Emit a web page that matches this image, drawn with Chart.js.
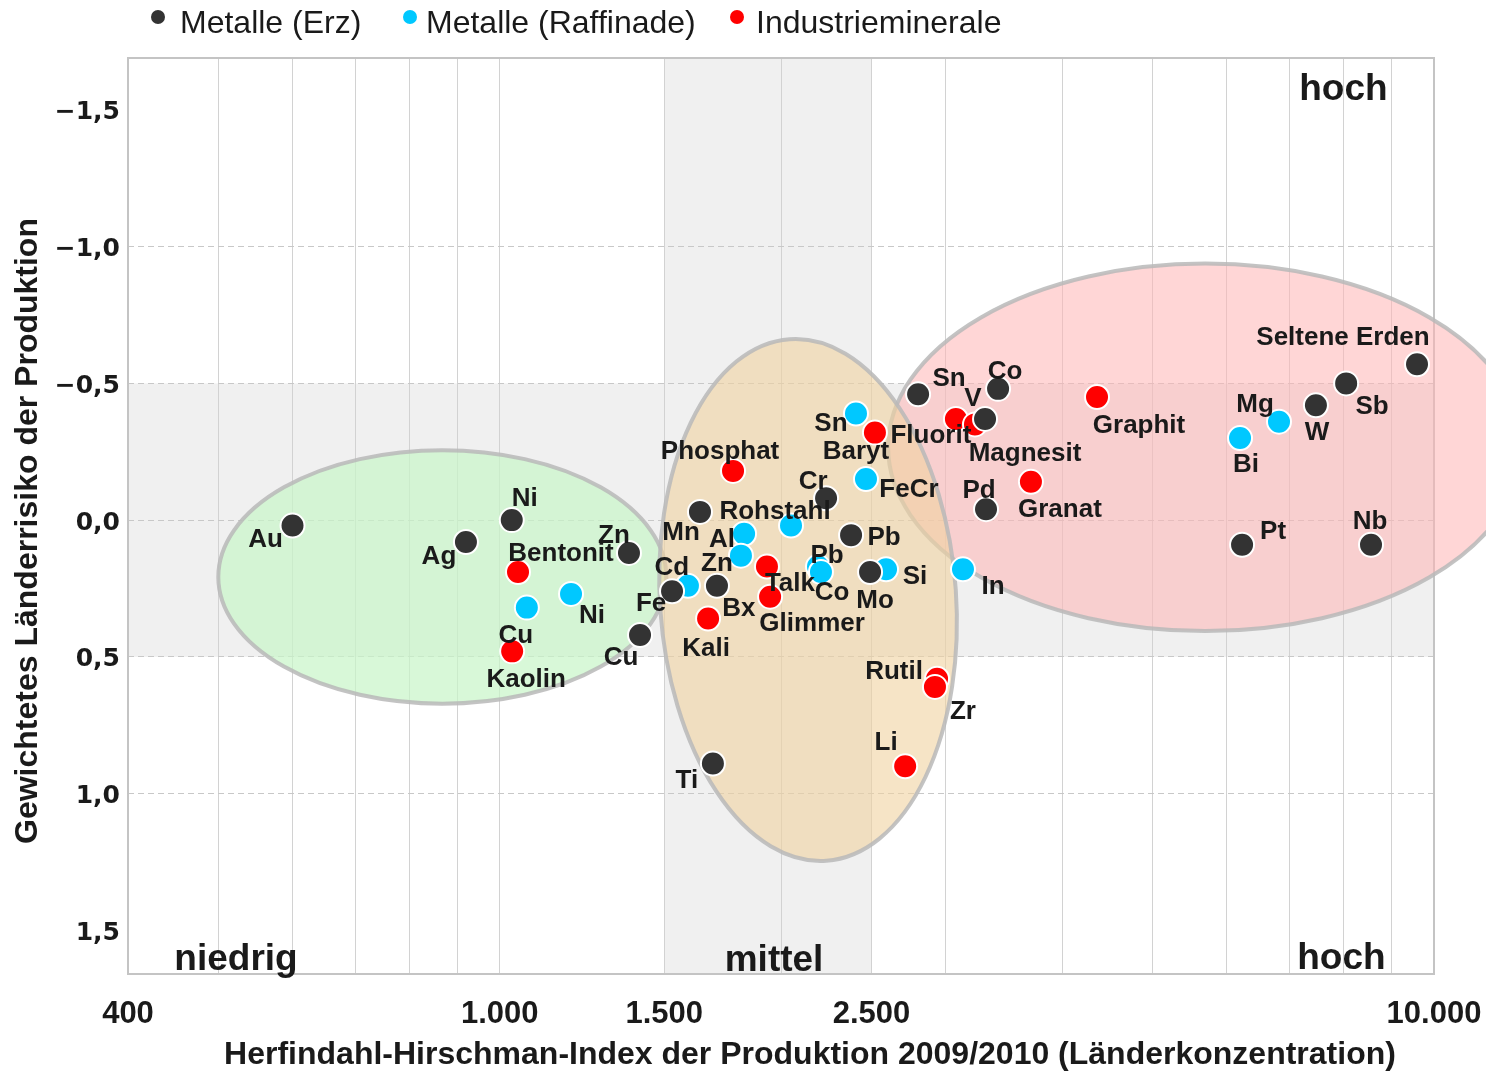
<!DOCTYPE html>
<html>
<head>
<meta charset="utf-8">
<script src="https://cdn.jsdelivr.net/npm/chart.js@4.4.1/dist/chart.umd.min.js"></script>
<style>
  html, body { margin: 0; padding: 0; background: #fff; }
  #wrap { width: 1486px; height: 1072px; }
</style>
</head>
<body>
<div id="wrap"><canvas id="chart" width="1486" height="1072"></canvas></div>
<script>
/* ===== DATA ===== */
const seriesNames = ["Metalle (Erz)", "Metalle (Raffinade)", "Industrieminerale"];

// Metalle (Erz)
const erzNames = ["Au", "Ag", "Ni", "Zn", "Cu", "Fe", "Mn", "Bx", "Ti", "Cr", "Pb", "Mo",
  "Sn", "V", "Co", "Pd", "W", "Sb", "Seltene Erden", "Pt", "Nb"];
const erzHHI = [600, 920, 1030, 1375, 1413, 1529, 1638, 1708, 1691, 2235, 2377, 2491,
  2804, 3307, 3415, 3315, 7475, 8053, 9590, 6231, 8562];
const erzRisk = [0.02, 0.08, 0.0, 0.12, 0.42, 0.26, -0.03, 0.24, 0.89, -0.08, 0.055, 0.19,
  -0.46, -0.37, -0.48, -0.04, -0.42, -0.50, -0.57, 0.09, 0.09];

// Metalle (Raffinade)
const raffNames = ["Cu", "Ni", "Cd", "Al", "Zn", "Rohstahl", "Pb", "Co", "Si", "Sn", "FeCr",
  "In", "Mg", "Bi"];
const raffHHI = [1069, 1192, 1590, 1826, 1812, 2050, 2191, 2207, 2591, 2406, 2466,
  3132, 6825, 6200];
const raffRisk = [0.32, 0.27, 0.24, 0.05, 0.13, 0.02, 0.17, 0.19, 0.18, -0.39, -0.15,
  0.18, -0.36, -0.30];

// Industrieminerale
const indNames = ["Bentonit", "Kaolin", "Phosphat", "Talk", "Glimmer", "Kali", "Baryt",
  "Fluorit", "Magnesit", "Graphit", "Granat", "Rutil", "Zr", "Li"];
const indHHI = [1046, 1031, 1777, 1932, 1947, 1671, 2521, 3078, 3226, 4358, 3703,
  2938, 2923, 2716];
const indRisk = [0.19, 0.48, -0.18, 0.17, 0.28, 0.36, -0.32, -0.37, -0.35, -0.45, -0.14,
  0.58, 0.61, 0.90];

// axis ticks
const xGridValues = [400, 500, 600, 700, 800, 900, 1000, 1500, 2000, 2500, 3000, 4000,
  5000, 6000, 7000, 8000, 9000, 10000];
const xLabelValues = [400, 1000, 1500, 2500, 10000];
const yTickValues = [-1.5, -1.0, -0.5, 0, 0.5, 1.0, 1.5];

/* ===== LABEL OFFSETS (px, relative to point) ===== */
const erzLabelPos = [[-27, 14], [-27, 15], [13, -21], [-15, -17], [-19, 23], [-21, 13],
  [-19, 21], [22, 23], [-26, 17], [-13, -16], [33, 3], [5, 29], [31, -15], [-12, -20],
  [7, -17], [-7, -18], [1, 28], [26, 23], [-74, -26], [31, -13], [-1, -23]];
const raffLabelPos = [[-11, 28], [21, 22], [-16, -18], [-22, 6], [-24, 8], [-16, -14],
  [9, -11], [11, 21], [29, 8], [-25, 10], [43, 11], [30, 18], [-24, -17], [6, 27]];
const indLabelPos = [[43, -18], [14, 28], [-13, -19], [23, 17], [42, 27], [-2, 30],
  [-19, 19], [-25, 17], [50, 29], [42, 29], [29, 28], [-43, -7], [28, 25], [-19, -23]];

const colors = ["#333333", "#00c8ff", "#ff0000"];
const FONT = "'Liberation Sans', Arial, sans-serif";

/* ===== PLUGINS ===== */
const bands = {
  id: "bands",
  beforeDraw(chart) {
    const { ctx, chartArea: a, scales: { x, y } } = chart;
    ctx.save();
    ctx.fillStyle = "#fff";
    ctx.fillRect(0, 0, chart.width, chart.height);
    ctx.fillStyle = "#f0f0f0";
    const x1 = x.getPixelForValue(1500), x2 = x.getPixelForValue(2500);
    ctx.fillRect(x1, a.top, x2 - x1, a.bottom - a.top);
    const y1 = y.getPixelForValue(-0.5), y2 = y.getPixelForValue(0.5);
    ctx.fillRect(a.left, y1, a.right - a.left, y2 - y1);
    ctx.restore();
  }
};

// cluster ellipses in data units (centre, half width in decades, half height)
const clusters = [
  { x: 868, y: 0.208, rxDec: 0.2398, ry: 0.4635, rot: 0, fill: "rgba(200,245,200,0.7)" },
  { x: 5690, y: -0.266, rxDec: 0.3394, ry: 0.672, rot: 0, fill: "rgba(255,180,180,0.55)" },
  { x: 2138, y: 0.292, rxDec: 0.1585, ry: 0.956, rot: -0.07, fill: "rgba(240,210,160,0.6)" }
];

const ellipses = {
  id: "ellipses",
  beforeDatasetsDraw(chart) {
    const { ctx, chartArea: a, scales: { x, y } } = chart;
    ctx.save();
    ctx.strokeStyle = "#c4c4c4";
    ctx.lineWidth = 2;
    ctx.strokeRect(a.left, a.top, a.right - a.left, a.bottom - a.top);
    clusters.forEach(c => {
      const cx = x.getPixelForValue(c.x);
      const rx = x.getPixelForValue(c.x * Math.pow(10, c.rxDec)) - cx;
      const cy = y.getPixelForValue(c.y);
      const ry = Math.abs(y.getPixelForValue(c.y + c.ry) - cy);
      ctx.beginPath();
      ctx.ellipse(cx, cy, rx, ry, c.rot, 0, Math.PI * 2);
      ctx.fillStyle = c.fill;
      ctx.fill();
      ctx.lineWidth = 4;
      ctx.strokeStyle = "rgba(185,185,185,0.85)";
      ctx.stroke();
    });
    ctx.restore();
  }
};

const labelSets = [
  { names: erzNames, pos: erzLabelPos },
  { names: raffNames, pos: raffLabelPos },
  { names: indNames, pos: indLabelPos }
];

const pointLabels = {
  id: "pointLabels",
  afterDatasetsDraw(chart) {
    const { ctx, chartArea: a, scales: { x, y } } = chart;
    ctx.save();
    ctx.fillStyle = "#1a1a1a";
    ctx.textAlign = "center";
    ctx.textBaseline = "middle";
    ctx.font = "bold 26px " + FONT;
    labelSets.forEach((set, di) => {
      const meta = chart.getDatasetMeta(di);
      meta.data.forEach((pt, i) => {
        const off = set.pos[i];
        ctx.fillText(set.names[i], pt.x + off[0], pt.y + off[1]);
      });
    });

    // region labels
    ctx.font = "bold 37px " + FONT;
    ctx.textBaseline = "alphabetic";
    ctx.fillText("niedrig", x.getPixelForValue(522), a.bottom - 4);
    ctx.fillText("mittel", x.getPixelForValue(1966), a.bottom - 3);
    ctx.fillText("hoch", x.getPixelForValue(7960), a.bottom - 5);
    ctx.fillText("hoch", x.getPixelForValue(8000), a.top + 42);
    ctx.restore();
  }
};

const legendX = [[158, 180], [410, 426], [737, 756]];

const extras = {
  id: "extras",
  afterDraw(chart) {
    const { ctx } = chart;
    ctx.save();
    // legend
    ctx.font = "32px " + FONT;
    ctx.textBaseline = "middle";
    ctx.textAlign = "left";
    seriesNames.forEach((name, i) => {
      ctx.beginPath();
      ctx.arc(legendX[i][0], 17, 7, 0, Math.PI * 2);
      ctx.fillStyle = colors[i];
      ctx.fill();
      ctx.fillStyle = "#1a1a1a";
      ctx.fillText(name, legendX[i][1], 24);
    });
    // axis titles
    ctx.fillStyle = "#1a1a1a";
    ctx.textAlign = "center";
    ctx.font = "bold 32px " + FONT;
    ctx.fillText("Herfindahl-Hirschman-Index der Produktion 2009/2010 (Länderkonzentration)", 810, 1055);
    ctx.translate(28, 531);
    ctx.rotate(-Math.PI / 2);
    ctx.fillText("Gewichtetes Länderrisiko der Produktion", 0, 0);
    ctx.restore();
  }
};

/* ===== CHART ===== */
const makeSet = (label, xs, ys, color) => ({
  label: label,
  data: xs.map((v, i) => ({ x: v, y: ys[i] })),
  backgroundColor: color,
  borderColor: "#ffffff",
  borderWidth: 2,
  pointRadius: 12,
  pointHoverRadius: 12
});

new Chart(document.getElementById("chart"), {
  type: "scatter",
  data: {
    datasets: [
      makeSet(seriesNames[0], erzHHI, erzRisk, colors[0]),
      makeSet(seriesNames[1], raffHHI, raffRisk, colors[1]),
      makeSet(seriesNames[2], indHHI, indRisk, colors[2])
    ]
  },
  options: {
    responsive: false,
    animation: false,
    devicePixelRatio: 1,
    layout: { padding: { top: 58, right: 52, left: 0, bottom: 0 } },
    plugins: {
      legend: { display: false },
      tooltip: { enabled: false }
    },
    scales: {
      x: {
        type: "logarithmic",
        min: 400,
        max: 10000,
        afterBuildTicks: s => { s.ticks = xGridValues.map(v => ({ value: v })); },
        afterFit: s => { s.height = 98; s.paddingLeft = 0; s.paddingRight = 0; },
        grid: { color: "#d2d2d2", lineWidth: 1, drawTicks: false },
        border: { display: false },
        ticks: {
          autoSkip: false,
          maxRotation: 0,
          minRotation: 0,
          padding: 22,
          color: "#1a1a1a",
          font: { family: FONT, size: 31, weight: "bold" },
          callback: v => xLabelValues.includes(v) ? v.toLocaleString("de-DE") : ""
        }
      },
      y: {
        type: "linear",
        reverse: true,
        min: -1.69,
        max: 1.66,
        afterBuildTicks: s => { s.ticks = yTickValues.map(v => ({ value: v })); },
        afterFit: s => { s.width = 128; s.paddingTop = 0; s.paddingBottom = 0; },
        grid: {
          color: c => Math.abs(c.tick.value) > 1.2 ? "rgba(0,0,0,0)" : "#c8c8c8",
          lineWidth: 1,
          drawTicks: false
        },
        border: { display: false, dash: [6, 4] },
        ticks: {
          padding: 8,
          labelOffset: 3,
          color: "#1a1a1a",
          font: { family: "'DejaVu Sans', sans-serif", size: 25, weight: "bold" },
          callback: v => (v < 0 ? "\u2212" : "") + Math.abs(v).toFixed(1).replace(".", ",")
        }
      }
    }
  },
  plugins: [bands, ellipses, pointLabels, extras]
});
</script>
</body>
</html>
